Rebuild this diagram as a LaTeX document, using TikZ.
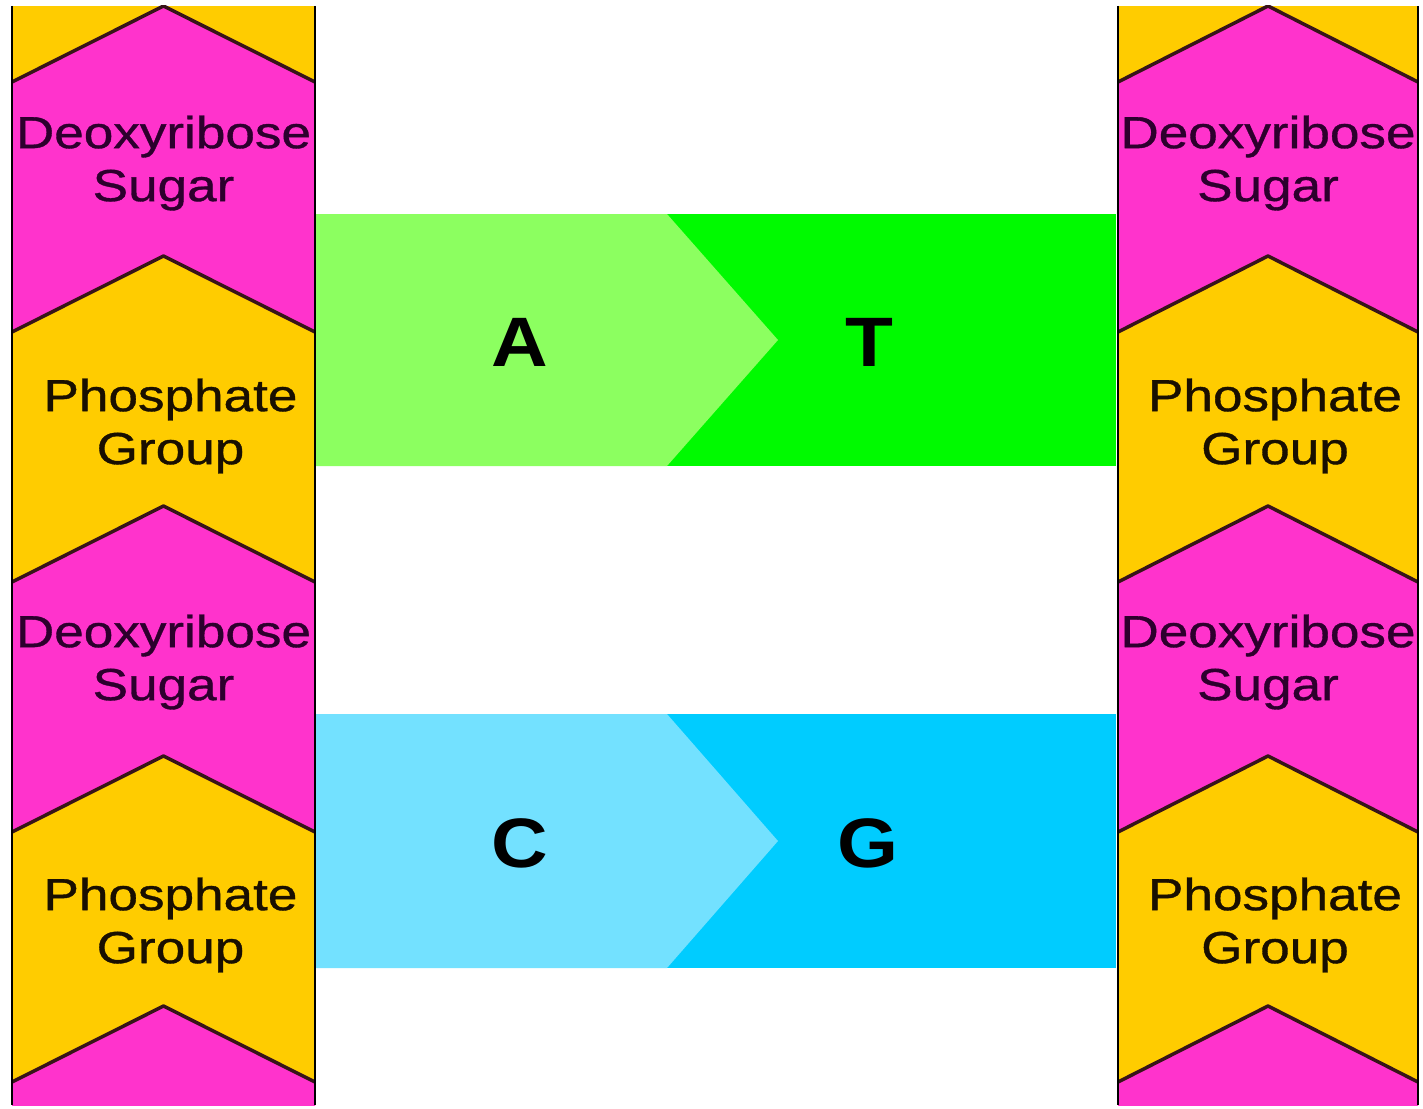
\documentclass[tikz,border=0pt]{standalone}
\usepackage{fontspec}
\usepackage{xcolor}
\newfontfamily\dnafont[FakeStretch=1.18,FakeBold=0.8]{Liberation Sans}
\newfontfamily\basefont[FakeStretch=1.12]{Liberation Sans Bold}
\definecolor{sugarpink}{RGB}{255,51,204}
\definecolor{phosorange}{RGB}{255,204,0}
\definecolor{sugartext}{RGB}{45,0,45}
\definecolor{phostext}{RGB}{25,15,0}
\definecolor{alight}{RGB}{140,255,96}
\definecolor{tdark}{RGB}{0,250,0}
\definecolor{clight}{RGB}{115,225,255}
\definecolor{gdark}{RGB}{0,204,255}
\definecolor{chevline}{RGB}{55,20,25}

\begin{document}
\begin{tikzpicture}[x=1pt,y=-1pt,
    sugar/.style={font=\dnafont\fontsize{45}{53}\selectfont, text=sugartext, align=center},
    phos/.style={font=\dnafont\fontsize{45}{53}\selectfont, text=phostext, align=center},
    letter/.style={font=\basefont\fontsize{70}{80}\selectfont, text=black},
    chevron/.style={draw=chevline, line width=3.5pt, line join=round}]
    \useasboundingbox (0,0) rectangle (1423,1108);
    \fill[white] (0,0) rectangle (1423,1108);
    % base pairs
    \fill[tdark] (316,214) rectangle (1116,466);
    \fill[alight] (316,214)--(667,214)--(778,340)--(667,466)--(316,466)--cycle;
    \fill[gdark] (316,714) rectangle (1116,968);
    \fill[clight] (316,714)--(667,714)--(778,841)--(667,968)--(316,968)--cycle;
    \node[letter] (A) at (520,342) {A};
    \node[letter] (T) at (869,342) {T};
    \node[letter] (C) at (520,843) {C};
    \node[letter] (G) at (868,843) {G};
    % backbones
    \foreach \xl/\xr/\side in {12/315/L, 1118/1418/R} {
        \begin{scope}
            \clip (\xl,6) rectangle (\xr,1105);
            \fill[phosorange] (\xl,6) rectangle (\xr,1105);
            \foreach \k in {0,2,4}
                \fill[sugarpink] (\xl,{82+250*\k})--({(\xl+\xr)/2},{6+250*\k})--(\xr,{82+250*\k})
                    --(\xr,{332+250*\k})--({(\xl+\xr)/2},{256+250*\k})--(\xl,{332+250*\k})--cycle;
            \foreach \k in {0,...,4}
                \draw[chevron] (\xl,{82+250*\k})--({(\xl+\xr)/2},{6+250*\k})--(\xr,{82+250*\k});
        \end{scope}
        \draw[black, line width=2.5pt] (\xl,6)--(\xl,1105) (\xr,6)--(\xr,1105);
        \node[sugar] (sugar\side1) at ({(\xl+\xr)/2},163) {Deoxyribose\\Sugar};
        \node[phos] (phos\side1) at ({(\xl+\xr)/2+7},426) {Phosphate\\Group};
        \node[sugar] (sugar\side2) at ({(\xl+\xr)/2},662) {Deoxyribose\\Sugar};
        \node[phos] (phos\side2) at ({(\xl+\xr)/2+7},925) {Phosphate\\Group};
    }
\end{tikzpicture}
\end{document}
